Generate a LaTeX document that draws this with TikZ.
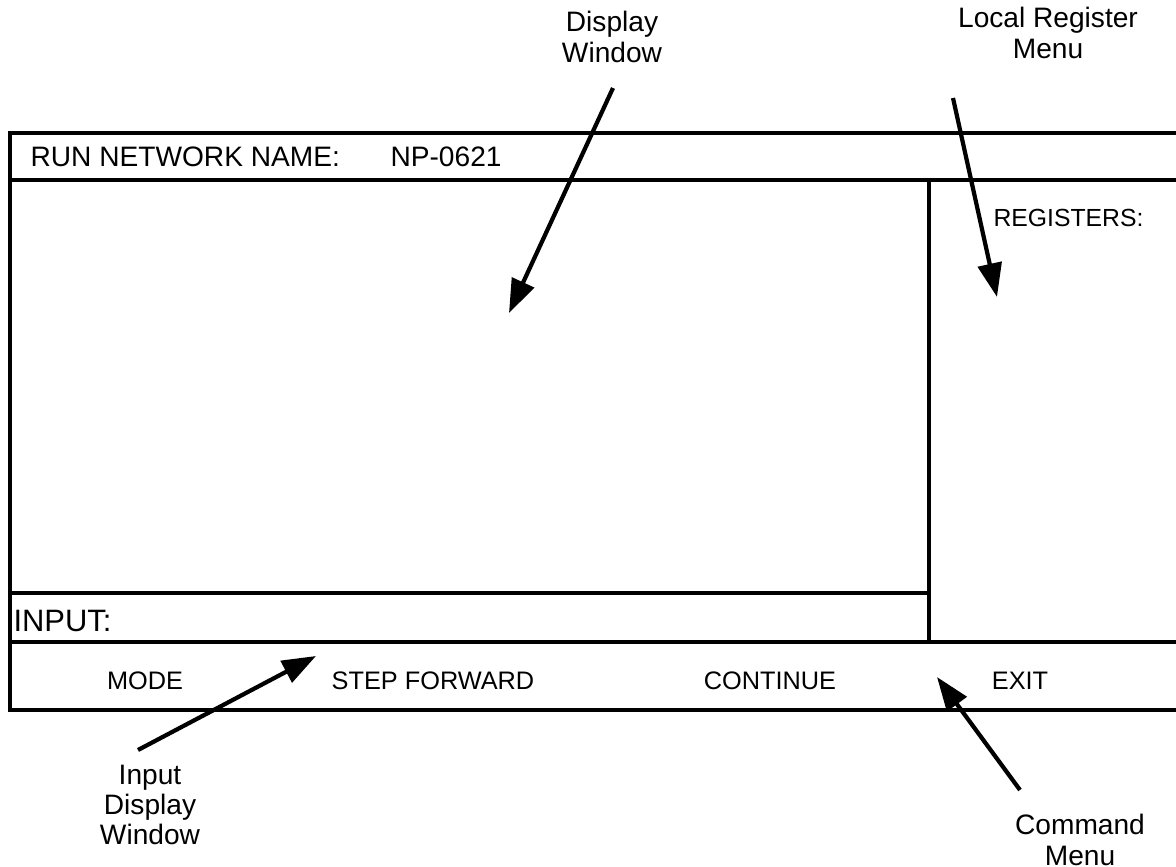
\documentclass[tikz,border=0pt]{standalone}
\usepackage{fontspec}
\setmainfont{Liberation Sans}
\usetikzlibrary{arrows.meta, positioning}
\tikzset{>={Triangle[length=12pt,width=8.5pt]}}

\begin{document}
\begin{tikzpicture}[x=0.0125cm, y=-0.0125cm,
  frame/.style={line width=1.1pt},
  pointer/.style={->, line width=1.5pt},
  callout/.style={align=center, font=\fontsize{10}{10.8}\selectfont},
  screentext/.style={anchor=base west, inner sep=0pt, font=\fontsize{10}{12}\selectfont},
  cmd/.style={font=\fontsize{9}{11}\selectfont}]
  \useasboundingbox (0,0) rectangle (1176,867);
  \clip (0,0) rectangle (1176,867);
  % screen outline
  \draw[frame] (1190,133) -- (10,133) -- (10,710) -- (1190,710);
  \draw[frame] (10,180) -- (1190,180);
  \draw[frame] (10,642) -- (1190,642);
  \draw[frame] (10,593) -- (929,593);
  \draw[frame] (929,180) -- (929,642);
  % screen texts
  \node[screentext] (runname) at (30,166) {RUN NETWORK NAME:};
  \node[screentext] (netid) at (390,166) {NP-0621};
  \node[screentext, font=\fontsize{8.8}{11}\selectfont] (regs) at (993,226) {REGISTERS:};
  \node[screentext, font=\fontsize{11}{12}\selectfont] (input) at (13,631) {INPUT:};
  \node[cmd] (mode) at (145,681) {MODE};
  \node[cmd] (stepfwd) at (433,681) {STEP FORWARD};
  \node[cmd] (cont) at (770,681) {CONTINUE};
  \node[cmd] (exit) at (1020,681) {EXIT};
  % callouts
  \node[callout] (dispwin) at (612,37) {Display\\Window};
  \node[callout] (regmenu) at (1048,33) {Local Register\\Menu};
  \node[callout] (inpwin) at (150,805) {Input\\Display\\Window};
  \node[callout] (cmdmenu) at (1080,840) {Command\\Menu};
  \coordinate (disptail) at (613,88);
  \coordinate (disptip) at (509,313);
  \coordinate (regtail) at (953,98);
  \coordinate (regtip) at (997,297);
  \coordinate (inptail) at (138,750);
  \coordinate (inptip) at (316,656);
  \coordinate (cmdtail) at (1020,790);
  \coordinate (cmdtip) at (937,677);
  \draw[pointer] (disptail) -- (disptip);
  \draw[pointer] (regtail) -- (regtip);
  \draw[pointer] (inptail) -- (inptip);
  \draw[pointer] (cmdtail) -- (cmdtip);
\end{tikzpicture}
\end{document}
